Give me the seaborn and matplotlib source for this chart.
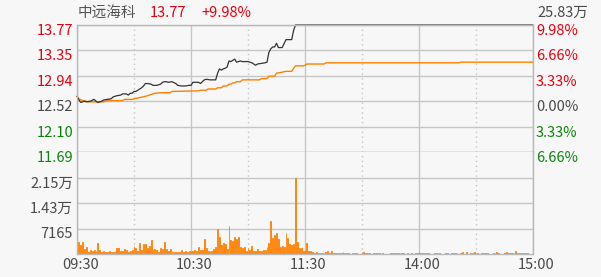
import matplotlib
matplotlib.use("Agg")
import matplotlib.pyplot as plt
import matplotlib.transforms as mtrans
import seaborn as sns

# ---------------- data ----------------
stock_name = "中远海科"
last_price = "13.77"
last_change = "+9.98%"
total_volume_label = "25.83万"
pre_close = 12.52
limit_up = 13.77

# minute index: 0 = 09:30, 120 = 11:30 / 13:00, 240 = 15:00
time_ticks = [0, 60, 120, 180, 240]
time_labels = ["09:30", "10:30", "11:30", "14:00", "15:00"]
half_ticks = [30, 90, 150, 210]

price_labels = ["13.77", "13.35", "12.94", "12.52", "12.10", "11.69"]
pct_labels = ["9.98%", "6.66%", "3.33%", "0.00%", "3.33%", "6.66%"]
vol_labels = ["2.15万", "1.43万", "7165"]

price_t = [0, 1, 2, 3, 4, 5, 7, 9, 10, 11, 12, 13, 14, 16, 18, 19, 21, 23, 24, 26,
           27, 28, 29, 30, 31, 33, 34, 35, 36, 37, 39, 40, 42, 44, 45, 46, 47, 48, 50,
           52, 53, 55, 57, 59, 60, 61, 64, 65, 67, 68, 70, 73, 74, 75, 76, 77, 78, 79,
           80, 81, 83, 84, 86, 87, 89, 90, 92, 94, 95, 97, 99, 100, 101, 102, 103, 104,
           105, 106, 108, 110, 113, 114, 115, 240]
price_v = [12.60, 12.54, 12.50, 12.51, 12.52, 12.51, 12.52, 12.55, 12.52, 12.50, 12.51,
           12.52, 12.54, 12.55, 12.56, 12.59, 12.61, 12.62, 12.64, 12.64, 12.62, 12.65,
           12.65, 12.68, 12.68, 12.72, 12.74, 12.77, 12.81, 12.81, 12.80, 12.78, 12.78,
           12.80, 12.83, 12.84, 12.84, 12.83, 12.84, 12.81, 12.78, 12.77, 12.77, 12.78,
           12.78, 12.83, 12.83, 12.81, 12.87, 12.88, 12.87, 12.87, 12.98, 13.05, 13.03,
           13.05, 13.06, 13.08, 13.18, 13.17, 13.21, 13.16, 13.18, 13.17, 13.17, 13.17,
           13.15, 13.11, 13.13, 13.14, 13.15, 13.16, 13.32, 13.38, 13.41, 13.41, 13.47,
           13.40, 13.40, 13.53, 13.53, 13.68, 13.77, 13.77]

avg_t = [0, 1, 3, 6, 14, 16, 24, 25, 29, 30, 33, 36, 38, 41, 45, 49, 50, 64, 65, 68, 69,
         73, 74, 76, 77, 79, 80, 81, 82, 83, 84, 86, 87, 96, 97, 100, 101, 104, 105, 107,
         110, 113, 114, 115, 119, 120, 121, 130, 131, 201, 202, 240]
avg_v = [12.60, 12.56, 12.53, 12.51, 12.51, 12.53, 12.53, 12.55, 12.55, 12.56, 12.58,
         12.60, 12.62, 12.65, 12.66, 12.66, 12.68, 12.69, 12.70, 12.70, 12.72, 12.72,
         12.74, 12.74, 12.77, 12.77, 12.80, 12.80, 12.82, 12.82, 12.84, 12.84, 12.87,
         12.87, 12.89, 12.89, 12.93, 12.93, 12.98, 12.99, 13.01, 13.01, 13.06, 13.10,
         13.10, 13.11, 13.13, 13.13, 13.15, 13.15, 13.16, 13.16]

vol_am = [1100, 3310, 2560, 3310, 1300, 1930, 550, 1100, 830, 1020,
          830, 3030, 1100, 550, 830, 550, 550, 830, 550, 550,
          830, 1650, 1650, 830, 830, 1380, 1100, 550, 830, 1020,
          2200, 1650, 830, 3030, 1100, 2950, 2760, 1650, 2200, 3860,
          1380, 1380, 1100, 550, 1650, 1380, 3310, 1380, 830, 1380,
          830, 550, 550, 550, 550, 1100, 550, 830, 550, 830,
          830, 830, 1100, 830, 1930, 1100, 1100, 4130, 1650, 830,
          830, 830, 1380, 1930, 6890, 4690, 2480, 3030, 2760, 1380,
          7990, 3860, 3580, 4690, 4130, 4690, 1930, 1650, 1930, 830,
          1650, 1100, 2200, 830, 830, 1380, 830, 830, 1100, 1100,
          1930, 3030, 9370, 4410, 5240, 5790, 4130, 1930, 2200, 1930,
          5790, 4410, 2760, 2480, 2760, 21495, 3310, 1650, 1650, 830,
          1100, 3030]
vol_pm = [830, 830, 550, 280, 550, 280, 280, 280, 280, 550,
          830, 280, 830, 280, 280, 280, 280, 280, 550, 280,
          280, 280, 0, 280, 280, 280, 0, 0, 550, 550,
          280, 280, 280, 0, 280, 280, 280, 280, 0, 280,
          0, 0, 0, 280, 280, 280, 280, 280, 280, 280,
          280, 0, 280, 0, 280, 0, 280, 280, 550, 280,
          280, 280, 280, 280, 0, 0, 280, 280, 280, 280,
          0, 0, 280, 280, 0, 280, 280, 280, 280, 0,
          280, 690, 0, 690, 0, 280, 280, 550, 0, 280,
          0, 280, 280, 280, 280, 0, 0, 280, 280, 550,
          280, 0, 0, 280, 550, 280, 280, 280, 280, 830,
          280, 280, 280, 280, 280, 280, 0, 0, 550]
volume = vol_am + vol_pm
vol_t = list(range(len(volume)))

# ---------------- style ----------------
BG = "#f7f7f7"
GRID = "#c6c6c6"
RED = "#e6000f"
GREEN = "#0b860b"
GRAY = "#4a4a4a"
ORANGE = "#ff8000"
DARK = "#333333"
FS = 10.5

sns.set_theme(style="white")
plt.rcParams["font.family"] = ["Noto Sans CJK SC", "DejaVu Sans"]
plt.rcParams["axes.unicode_minus"] = False

W, H = 601, 277
L, R = 77, 533
T, MID, B = 25, 152, 254
fig = plt.figure(figsize=(W / 100, H / 100), dpi=100, facecolor=BG)
ax = fig.add_axes([L / W, 1 - MID / H, (R - L) / W, (MID - T) / H], facecolor=BG)
axv = fig.add_axes([L / W, 1 - B / H, (R - L) / W, (B - MID) / H], facecolor=BG)

# volume bars
sns.barplot(x=vol_t, y=volume, ax=axv, native_scale=True, color=ORANGE,
            width=0.45, errorbar=None, linewidth=0.6, edgecolor=ORANGE, saturation=1)

# price & average lines
sns.lineplot(x=avg_t, y=avg_v, ax=ax, color=ORANGE, lw=1.0, estimator=None, sort=False)
sns.lineplot(x=price_t, y=price_v, ax=ax, color=DARK, lw=0.9, estimator=None, sort=False)
for ln in ax.lines:
    ln.set_clip_on(False)

step = (limit_up - pre_close) / 3
price_ticks = [pre_close + k * step for k in (3, 2, 1, 0, -1, -2)]
vmax = max(volume)
vol_ticks = [vmax, vmax * 2 / 3, vmax / 3]

for a in (ax, axv):
    a.set_xlim(0, 240)
    a.set_xticks(time_ticks)
    a.set_xticks(half_ticks, minor=True)
    a.xaxis.grid(True, which="major", color=GRID, lw=1)
    a.xaxis.grid(True, which="minor", color=GRID, lw=1, ls=(0, (1, 2.5)))
    a.yaxis.grid(True, color=GRID, lw=1)
    a.set_axisbelow(True)
    a.tick_params(left=False, bottom=False, labelleft=False, labelbottom=False,
                  which="both")
    a.set_xlabel("")
    a.set_ylabel("")
    for s in a.spines.values():
        s.set_color("#b8b8b8")
        s.set_linewidth(1)
ax.set_ylim(pre_close - 2 * step, limit_up)
ax.set_yticks(price_ticks)
axv.set_ylim(0, vmax * 4 / 3)
axv.set_yticks(vol_ticks)
axv.spines["top"].set_visible(False)

# ---------------- texts ----------------
price_colors = [RED, RED, RED, GRAY, GREEN, GREEN]
tl = mtrans.offset_copy(ax.get_yaxis_transform(), fig=fig, x=-4, y=-6, units="dots")
tr = mtrans.offset_copy(ax.get_yaxis_transform(), fig=fig, x=3, y=-6, units="dots")
for v, s, s2, c in zip(price_ticks, price_labels, pct_labels, price_colors):
    ax.text(0, v, s, transform=tl, ha="right", va="center", color=c, fontsize=FS)
    ax.text(1, v, s2, transform=tr, ha="left", va="center", color=c, fontsize=FS)

tvl = mtrans.offset_copy(axv.get_yaxis_transform(), fig=fig, x=-4, y=-6, units="dots")
for v, s in zip(vol_ticks, vol_labels):
    axv.text(0, v, s, transform=tvl, ha="right", va="center", color=GRAY, fontsize=FS)

tb = mtrans.offset_copy(axv.get_xaxis_transform(), fig=fig, x=3.5, y=-11, units="dots")
for m, s in zip(time_ticks, time_labels):
    axv.text(m, 0, s, transform=tb, ha="center", va="center", color=GRAY, fontsize=FS)

ty = 1 - 13 / H
fig.text(78 / W, ty, stock_name, ha="left", va="center", color="#555555", fontsize=FS)
fig.text(150 / W, ty, last_price, ha="left", va="center", color=RED, fontsize=FS)
fig.text(201 / W, ty, last_change, ha="left", va="center", color=RED, fontsize=FS)
fig.text(537 / W, ty, total_volume_label, ha="left", va="center", color=GRAY, fontsize=FS)

fig.savefig("out.png", dpi=100, facecolor=BG)
